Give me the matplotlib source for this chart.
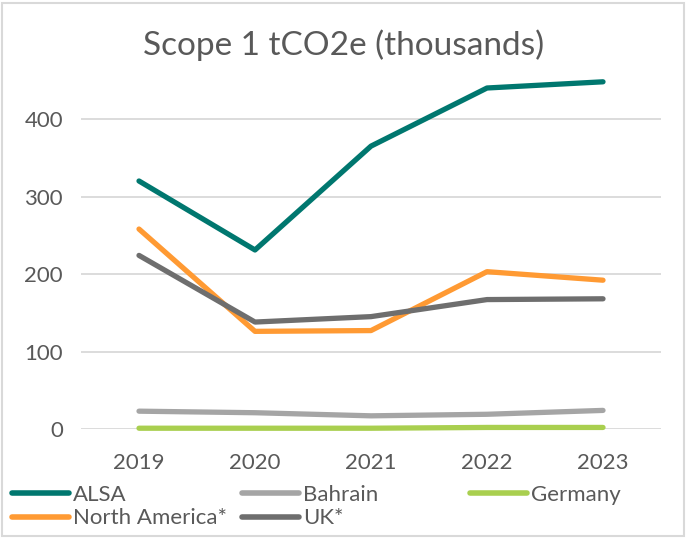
import matplotlib
matplotlib.use("Agg")
import matplotlib.pyplot as plt
from matplotlib.patches import Rectangle
from matplotlib.lines import Line2D

plt.rcParams['font.family'] = ['Lato', 'DejaVu Sans']

years = ["2019", "2020", "2021", "2022", "2023"]
alsa = [320, 231, 365, 440, 448]
bahrain = [23, 21, 17, 19, 24]
germany = [1, 1, 1, 2, 2]
north_america = [258, 126, 127, 203, 192]
uk = [224, 138, 145, 167, 168]

series = [
    ("ALSA", alsa, "#00776F"),
    ("Bahrain", bahrain, "#A5A5A5"),
    ("Germany", germany, "#A9CF4F"),
    ("North America*", north_america, "#FF9A33"),
    ("UK*", uk, "#6E6E6E"),
]

W, H = 687, 538
fig = plt.figure(figsize=(W / 100, H / 100), dpi=100)

ymax = 470
y0_px, y400_px = 429, 119
ppu = (y0_px - y400_px) / 400.0
top_px = y0_px - ymax * ppu
left_px, right_px = 81, 661
ax = fig.add_axes([left_px / W, (H - y0_px) / H, (right_px - left_px) / W, (y0_px - top_px) / H])

x = list(range(len(years)))
handles = {}
for name, vals, col in series:
    ln, = ax.plot(x, vals, color=col, lw=3.8, solid_capstyle='round', solid_joinstyle='round',
                  clip_on=False, zorder=3, label=name)
    handles[name] = ln

ax.set_xlim(-0.5, len(years) - 0.5)
ax.set_ylim(0, ymax)
ax.set_yticks([0, 100, 200, 300, 400])
ax.set_xticks(x)
ax.set_xticklabels(years)
for s in ax.spines.values():
    s.set_visible(False)
ax.tick_params(length=0, labelsize=16, colors="#595959")
ax.tick_params(axis='y', pad=13)
ax.tick_params(axis='x', pad=17)
for yv in [0, 100, 200, 300, 400]:
    ax.axhline(yv, color="#D9D9D9", lw=1.3, zorder=1)

fig.text(344 / W, 1 - 45 / H, "Scope 1 tCO2e (thousands)", ha='center', va='center',
         fontsize=24, color="#595959")

# legend in three columns
cols = [
    (12, ["ALSA", "North America*"]),
    (242, ["Bahrain", "UK*"]),
    (470, ["Germany"]),
]
for xpx, names in cols:
    hs = [Line2D([], [], color=handles[n].get_color(), lw=4, solid_capstyle='round') for n in names]
    fig.legend(hs, names, loc='upper left', bbox_to_anchor=(xpx / W, 1 - 485 / H),
               frameon=False, fontsize=16, handlelength=2.55, handletextpad=0.2,
               labelspacing=0.15, borderpad=0, borderaxespad=0, labelcolor="#595959")

fig.patches.append(Rectangle((2 / W, 2 / H), (W - 5) / W, (H - 5) / H, transform=fig.transFigure,
                             fill=False, edgecolor="#D9D9D9", lw=1.5))

fig.savefig("out.png", dpi=100)
